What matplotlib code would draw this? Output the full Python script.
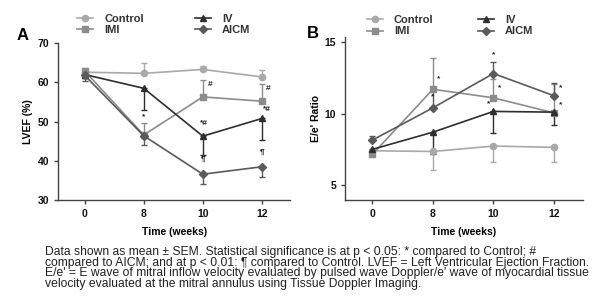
import matplotlib
matplotlib.use("Agg")
import matplotlib.pyplot as plt

plt.rcParams['font.family'] = ['Liberation Sans', 'DejaVu Sans']

# Data
weeks = ["0", "8", "10", "12"]
groups = ["Control", "IMI", "IV", "AICM"]

lvef_control = [62.6, 62.3, 63.3, 61.4]
lvef_imi = [62.9, 46.6, 56.3, 55.2]
lvef_iv = [62.0, 58.5, 46.3, 50.8]
lvef_aicm = [61.8, 46.4, 36.6, 38.5]
lvef_err_control = [1.0, 2.7, 0.8, 1.7]
lvef_err_imi = [0.6, 3.0, 4.3, 4.5]
lvef_err_iv = [1.0, 5.6, 4.8, 5.5]
lvef_err_aicm = [1.5, 2.4, 2.5, 2.5]

ee_control = [7.4, 7.35, 7.73, 7.64]
ee_imi = [7.15, 11.7, 11.1, 10.05]
ee_iv = [7.5, 8.7, 10.15, 10.1]
ee_aicm = [8.15, 10.4, 12.8, 11.25]
ee_err_control = [0.4, 1.3, 1.1, 1.05]
ee_err_imi = [0.4, 2.2, 1.3, 2.0]
ee_err_iv = [0.4, 1.5, 1.5, 0.9]
ee_err_aicm = [0.3, 1.2, 0.8, 0.9]

# significance marks: (group, week index, text, dx px, dy px)
lvef_marks = [("IMI", 1, "*", 0, 15), ("IMI", 2, "#", 7, 9), ("IMI", 3, "#", 6, 9),
              ("IV", 2, "*#", 1, 9), ("IV", 3, "*#", 5, 5),
              ("AICM", 2, "¶", 0, 11), ("AICM", 3, "¶", 0, 11)]
ee_marks = [("IMI", 1, "*", 6, 7), ("AICM", 1, "*", 0, 8), ("AICM", 2, "*", 0, 15),
            ("IMI", 2, "*", 6, 7), ("IV", 2, "*", -5, 4), ("AICM", 3, "*", 7, 4),
            ("IMI", 3, "*", 7, 5)]

caption_lines = [
    "Data shown as mean \u00b1 SEM. Statistical significance is at p < 0.05: * compared to Control; #",
    "compared to AICM; and at p < 0.01: \u00b6 compared to Control. LVEF = Left Ventricular Ejection Fraction.",
    "E/e' = E wave of mitral inflow velocity evaluated by pulsed wave Doppler/e' wave of myocardial tissue",
    "velocity evaluated at the mitral annulus using Tissue Doppler Imaging.",
]

colors = {"Control": "#a9a9a9", "IMI": "#8c8c8c", "IV": "#2e2e2e", "AICM": "#5a5a5a"}
markers = {"Control": "o", "IMI": "s", "IV": "^", "AICM": "D"}
msize = {"Control": 4.5, "IMI": 4.8, "IV": 5, "AICM": 4.3}
# which side each group's error bar is drawn on (1 = up, -1 = down)
lvef_side = {"Control": 1, "IMI": 1, "IV": -1, "AICM": -1}
ee_side = {"Control": -1, "IMI": 1, "IV": -1, "AICM": 1}

fig = plt.figure(figsize=(6.11, 3.06), dpi=100)
axA = fig.add_axes([0.095, 0.346, 0.380, 0.513])
axB = fig.add_axes([0.565, 0.346, 0.389, 0.533])


def draw_panel(ax, vals, errs, side, marks, ylim, yticks, ylabel):
    x = list(range(len(weeks)))
    handles = []
    for g in groups:
        e = errs[g]
        if side[g] > 0:
            yerr = [[0] * len(e), e]
        else:
            yerr = [e, [0] * len(e)]
        ax.errorbar(x, vals[g], yerr=yerr, fmt="none", ecolor=colors[g],
                    elinewidth=1, capsize=2.5, capthick=1, zorder=2)
        h, = ax.plot(x, vals[g], color=colors[g], marker=markers[g],
                     markersize=msize[g], linewidth=1.2, label=g, zorder=3)
        handles.append(h)
    for g, i, t, dx, dy in marks:
        ax.annotate(t, (i, vals[g][i]), xytext=(dx, dy), textcoords="offset pixels",
                    ha="center", va="bottom", fontsize=6, fontweight="bold",
                    color="#222222")
    ax.set_xlim(-0.45, 3.48)
    ax.set_ylim(*ylim)
    ax.set_yticks(yticks)
    ax.set_xticks(x)
    ax.set_xticklabels(weeks)
    for s in ["top", "right"]:
        ax.spines[s].set_visible(False)
    for s in ["left", "bottom"]:
        ax.spines[s].set_color("#444444")
        ax.spines[s].set_linewidth(1)
    ax.tick_params(direction="out", length=3, width=1, colors="#444444",
                   labelsize=7.5, labelcolor="#111111")
    for lab in ax.get_xticklabels() + ax.get_yticklabels():
        lab.set_fontweight("bold")
    ax.set_ylabel(ylabel, fontsize=7.5, fontweight="bold", labelpad=3)
    ax.set_xlabel("Time (weeks)", fontsize=7.5, fontweight="bold", labelpad=6)
    return handles


lvef = {"Control": lvef_control, "IMI": lvef_imi, "IV": lvef_iv, "AICM": lvef_aicm}
lvef_err = {"Control": lvef_err_control, "IMI": lvef_err_imi,
            "IV": lvef_err_iv, "AICM": lvef_err_aicm}
ee = {"Control": ee_control, "IMI": ee_imi, "IV": ee_iv, "AICM": ee_aicm}
ee_err = {"Control": ee_err_control, "IMI": ee_err_imi,
          "IV": ee_err_iv, "AICM": ee_err_aicm}

hA = draw_panel(axA, lvef, lvef_err, lvef_side, lvef_marks, (30, 70),
                [30, 40, 50, 60, 70], "LVEF (%)")
hB = draw_panel(axB, ee, ee_err, ee_side, ee_marks, (3.95, 15.35),
                [5, 10, 15], "E/e' Ratio")

for h, anchor, cs in [(hA, (0.126, 0.954), 4.6), (hB, (0.600, 0.950), 4.0)]:
    leg = fig.legend(handles=h, loc="upper left", bbox_to_anchor=anchor, ncol=2,
                     frameon=False, handlelength=1.45, handletextpad=1.0,
                     columnspacing=cs, labelspacing=0.1, borderpad=0,
                     borderaxespad=0, prop={"size": 8, "weight": "bold"})
    for t in leg.get_texts():
        t.set_color("#333333")

fig.text(0.027, 1 - 40 / 306, "A", fontsize=12, fontweight="bold")
fig.text(0.503, 1 - 38 / 306, "B", fontsize=12, fontweight="bold")

fig.text(0.074, 1 - 246 / 306, "\n".join(caption_lines), fontsize=8.75,
         va="top", ha="left", linespacing=0.86, color="#222222")

fig.savefig("out.png", dpi=100, facecolor="white")
